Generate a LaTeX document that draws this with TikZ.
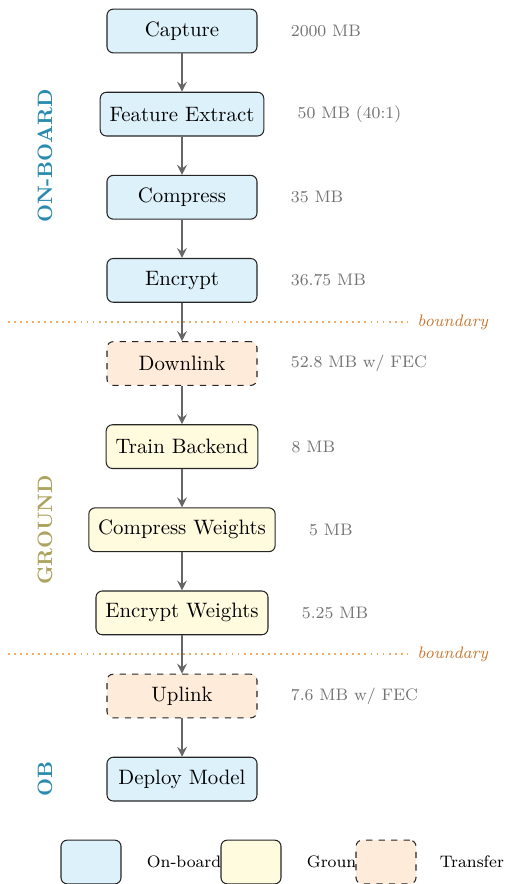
\documentclass[tikz,border=0pt]{standalone}
\usepackage{xcolor}
\usepackage{tikz}
\usetikzlibrary{arrows,positioning}

\definecolor{obfill}{RGB}{221,241,251}
\definecolor{gsfill}{RGB}{255,251,223}
\definecolor{txfill}{RGB}{255,235,217}
\definecolor{obtext}{RGB}{42,138,175}
\definecolor{gstext}{RGB}{172,163,95}
\definecolor{bdline}{RGB}{245,172,95}
\definecolor{bdtext}{RGB}{200,118,48}

\begin{document}
\begin{tikzpicture}[x=0.48pt, y=-0.48pt,
    onboard/.style={rectangle, draw=black!85, line width=0.5pt, fill=obfill, minimum width=72pt, minimum height=21pt, inner xsep=4.5pt, text centered, rounded corners=3pt},
    ground/.style={rectangle, draw=black!85, line width=0.5pt, fill=gsfill, minimum width=72pt, minimum height=21pt, inner xsep=4.5pt, text centered, rounded corners=3pt},
    transfer/.style={rectangle, draw=black!85, line width=0.5pt, dashed, fill=txfill, minimum width=72pt, minimum height=21pt, inner xsep=4.5pt, text centered, rounded corners=3pt},
    size/.style={font=\footnotesize, text=black!55},
    side/.style={font=\bfseries, rotate=90},
    bound/.style={bdline, dotted, line width=0.9pt},
    lgbox/.style={minimum width=28.8pt, minimum height=21pt},
    arrow/.style={->, >=stealth, black!60, line width=1.1pt}
]
    \useasboundingbox (0,0) rectangle (506,884);

    % On-board
    \node[onboard] (capture) at (182,31) {Capture};
    \node[onboard, below=18.4pt of capture] (extract) {Feature Extract};
    \node[onboard, below=18.4pt of extract] (compress) {Compress};
    \node[onboard, below=18.4pt of compress] (encrypt) {Encrypt};

    % Ground
    \node[transfer, below=18.4pt of encrypt] (downlink) {Downlink};
    \node[ground, below=18.4pt of downlink] (train) {Train Backend};
    \node[ground, below=18.4pt of train] (cweights) {Compress Weights};
    \node[ground, below=18.4pt of cweights] (eweights) {Encrypt Weights};
    \node[transfer, below=18.4pt of eweights] (uplink) {Uplink};
    \node[onboard, below=18.4pt of uplink] (deploy) {Deploy Model};

    % Sizes
    \node[size, right=12.5pt of capture] {2000 MB};
    \node[size, right=12.5pt of extract] {50 MB (40:1)};
    \node[size, right=12.5pt of compress] {35 MB};
    \node[size, right=12.5pt of encrypt] {36.75 MB};
    \node[size, right=12.5pt of downlink] {52.8 MB w/ FEC};
    \node[size, right=12.5pt of train] {8 MB};
    \node[size, right=12.5pt of cweights] {5 MB};
    \node[size, right=12.5pt of eweights] {5.25 MB};
    \node[size, right=12.5pt of uplink] {7.6 MB w/ FEC};

    % Arrows
    \draw[arrow] (capture) -- (extract);
    \draw[arrow] (extract) -- (compress);
    \draw[arrow] (compress) -- (encrypt);
    \draw[arrow] (encrypt) -- (downlink);
    \draw[arrow] (downlink) -- (train);
    \draw[arrow] (train) -- (cweights);
    \draw[arrow] (cweights) -- (eweights);
    \draw[arrow] (eweights) -- (uplink);
    \draw[arrow] (uplink) -- (deploy);

    % Boundaries
    \coordinate (down1) at (8,322);
    \coordinate (down2) at (408,322);
    \coordinate (up1) at (8,654);
    \coordinate (up2) at (408,654);
    \draw[bound] (down1) -- (down2);
    \draw[bound] (up1) -- (up2);
    \node[font=\footnotesize\itshape, text=bdtext, right=1pt of down2] (downlbl) {boundary};
    \node[font=\footnotesize\itshape, text=bdtext, right=1pt of up2] (uplbl) {boundary};

    % Side labels
    \node[side, text=obtext] (obside) at (45,156) {ON-BOARD};
    \node[side, text=gstext] (gsside) at (45,530) {GROUND};
    \node[side, text=obtext] (obside2) at (45,779) {OB};

    % Legend
    \node[onboard, lgbox] (lgob) at (91,862) {};
    \node[font=\footnotesize, inner sep=0pt, right=12pt of lgob] (lgoblbl) {On-board};
    \node[ground, lgbox, right=47.5pt of lgob] (lggs) {};
    \node[font=\footnotesize, inner sep=0pt, right=12pt of lggs] (lggslbl) {Ground};
    \node[transfer, lgbox, right=35.5pt of lggs] (lgtx) {};
    \node[font=\footnotesize, inner sep=0pt, right=11pt of lgtx] (lgtxlbl) {Transfer};
\end{tikzpicture}
\end{document}
